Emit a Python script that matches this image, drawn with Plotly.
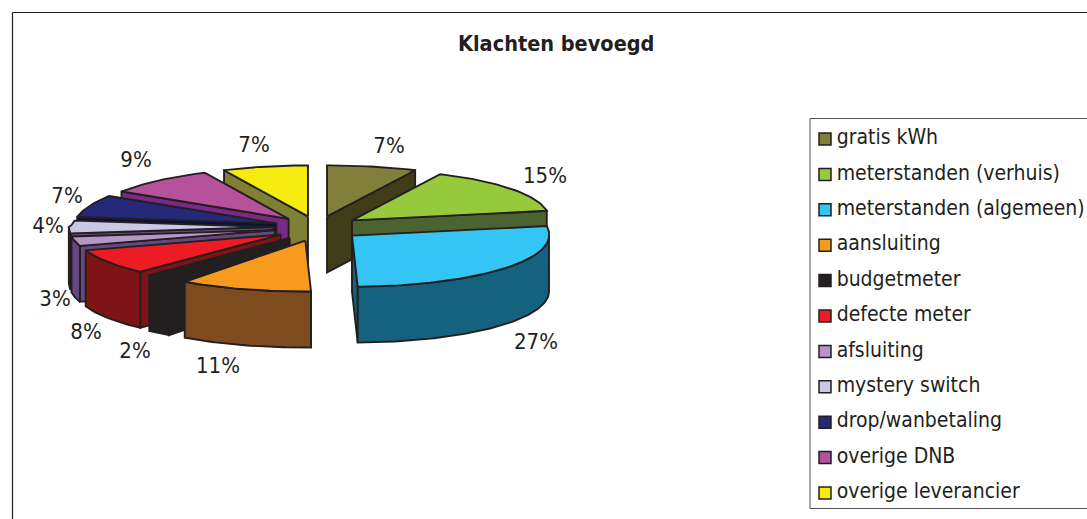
import math
import plotly.graph_objects as go

# --- data ---
categories = ["gratis kWh", "meterstanden (verhuis)", "meterstanden (algemeen)", "aansluiting",
              "budgetmeter", "defecte meter", "afsluiting", "mystery switch",
              "drop/wanbetaling", "overige DNB", "overige leverancier"]
values = [7, 15, 27, 11, 2, 8, 3, 4, 7, 9, 7]
title_text = "Klachten bevoegd"

# --- style ---
top_colors = ["#80803A", "#97C93D", "#35C5F4", "#F79A1D", "#231F20", "#ED1C24",
              "#B597C6", "#C9C9E6", "#24297A", "#B6519B", "#F5EB0F"]
side_colors = ["#3F3D18", "#4B6330", "#15627F", "#7F4C1F", "#231F20", "#7E1416",
               "#64487F", "#64487F", "#0C0F3D", "#7B2886", "#808034"]
label_pos = [(389, 147), (545, 177), (536, 343), (218, 367), (135, 352), (86, 333),
             (55, 300), (48, 227), (67, 197), (136, 161), (254, 146)]
CX, CY, RX, RY, DEPTH, EXPLODE = 317.5, 227, 205, 51, 56, 0.213
EDGE = "#231F20"
FONT = "DejaVu Sans Condensed"

fig = go.Figure()


def add_poly(pts, color, name):
    fig.add_trace(go.Scatter(x=[p[0] for p in pts] + [pts[0][0]], y=[p[1] for p in pts] + [pts[0][1]],
                             mode="lines", fill="toself", fillcolor=color,
                             line=dict(color=EDGE, width=1.9), name=name,
                             hoverinfo="name", showlegend=False))


total = sum(values)
slices, acc = [], 0
for i, v in enumerate(values):
    a0 = acc / total * 360
    acc += v
    a1 = acc / total * 360
    slices.append((i, a0, a1, (a0 + a1) / 2))


def project(t):
    """Screen offset of the rim point at angle t (slight perspective of the 3-D view)."""
    w = math.radians(t + 2 * math.exp(-((t - 176) / 20) ** 2))
    s, c = math.sin(w), math.cos(w)
    rx = RX - 8 * max(s, 0) + 6 * max(c, 0)
    if s < 0 and c > 0:
        rx -= 14 * math.sqrt(c)
    return rx * s, -RY * c


for i, a0, a1, mid in sorted(slices, key=lambda s: -math.cos(math.radians(s[3]))):
    cm = math.cos(math.radians(mid))
    ax = CX + EXPLODE * RX * math.sin(math.radians(mid))
    ay = CY - EXPLODE * RY * cm * (1.3 if cm < 0 else 1)

    def pt(t, dz=0):
        dx, dy = project(t)
        return (ax + dx, ay + dy + dz)

    name = categories[i]
    # radial faces that look towards the viewer
    if a0 > 180:
        add_poly([(ax, ay), pt(a0), pt(a0, DEPTH), (ax, ay + DEPTH)], side_colors[i], name)
    if a1 < 180:
        add_poly([(ax, ay), pt(a1), pt(a1, DEPTH), (ax, ay + DEPTH)], side_colors[i], name)
    # outer wall, front half only
    lo, hi = max(a0, 90), min(a1, 270)
    if lo < hi:
        n = max(2, int(hi - lo) + 1)
        ts = [lo + (hi - lo) * k / (n - 1) for k in range(n)]
        add_poly([pt(t) for t in ts] + [pt(t, DEPTH) for t in reversed(ts)], side_colors[i], name)
    # top face
    n = max(2, int(a1 - a0) + 1)
    add_poly([(ax, ay)] + [pt(a0 + (a1 - a0) * k / (n - 1)) for k in range(n)], top_colors[i], name)

# percentage labels
fig.add_trace(go.Scatter(x=[p[0] for p in label_pos], y=[p[1] for p in label_pos], mode="text",
                         text=[f"{round(v / total * 100)}%" for v in values],
                         textposition="middle center", textfont=dict(family=FONT, size=22, color=EDGE),
                         hoverinfo="skip", showlegend=False))

# legend
LEG_X, LEG_Y0, LEG_DY = 825, 139, 35.4
ys = [LEG_Y0 + LEG_DY * k for k in range(len(categories))]
fig.add_trace(go.Scatter(x=[LEG_X] * len(categories), y=ys, mode="markers+text",
                         marker=dict(symbol="square", size=12, color=top_colors, line=dict(color=EDGE, width=1.5)),
                         text=["\u2006" + c for c in categories], textposition="middle right",
                         textfont=dict(family=FONT, size=21, color=EDGE),
                         hoverinfo="text", showlegend=False, cliponaxis=False))

fig.update_layout(
    width=1087, height=519, margin=dict(l=0, r=0, t=0, b=0),
    paper_bgcolor="white", plot_bgcolor="white", showlegend=False,
    xaxis=dict(range=[0, 1087], visible=False, fixedrange=True),
    yaxis=dict(range=[519, 0], visible=False, fixedrange=True),
    shapes=[
        dict(type="line", x0=12.5, x1=1087, y0=12.5, y1=12.5, line=dict(color=EDGE, width=1.2)),
        dict(type="line", x0=12.5, x1=12.5, y0=12.5, y1=519, line=dict(color=EDGE, width=1.2)),
        dict(type="rect", x0=810, x1=1090, y0=118.5, y1=508.5, line=dict(color="#555555", width=1)),
    ],
    annotations=[
        dict(x=556, y=43, text=f"<b>{title_text}</b>", showarrow=False, xanchor="center", yanchor="middle",
             font=dict(family=FONT, size=21.5, color=EDGE)),
    ],
)
fig.write_html("out.html", config={"displayModeBar": False},
               post_script="document.body.style.margin='0';document.documentElement.style.overflow='hidden';")
